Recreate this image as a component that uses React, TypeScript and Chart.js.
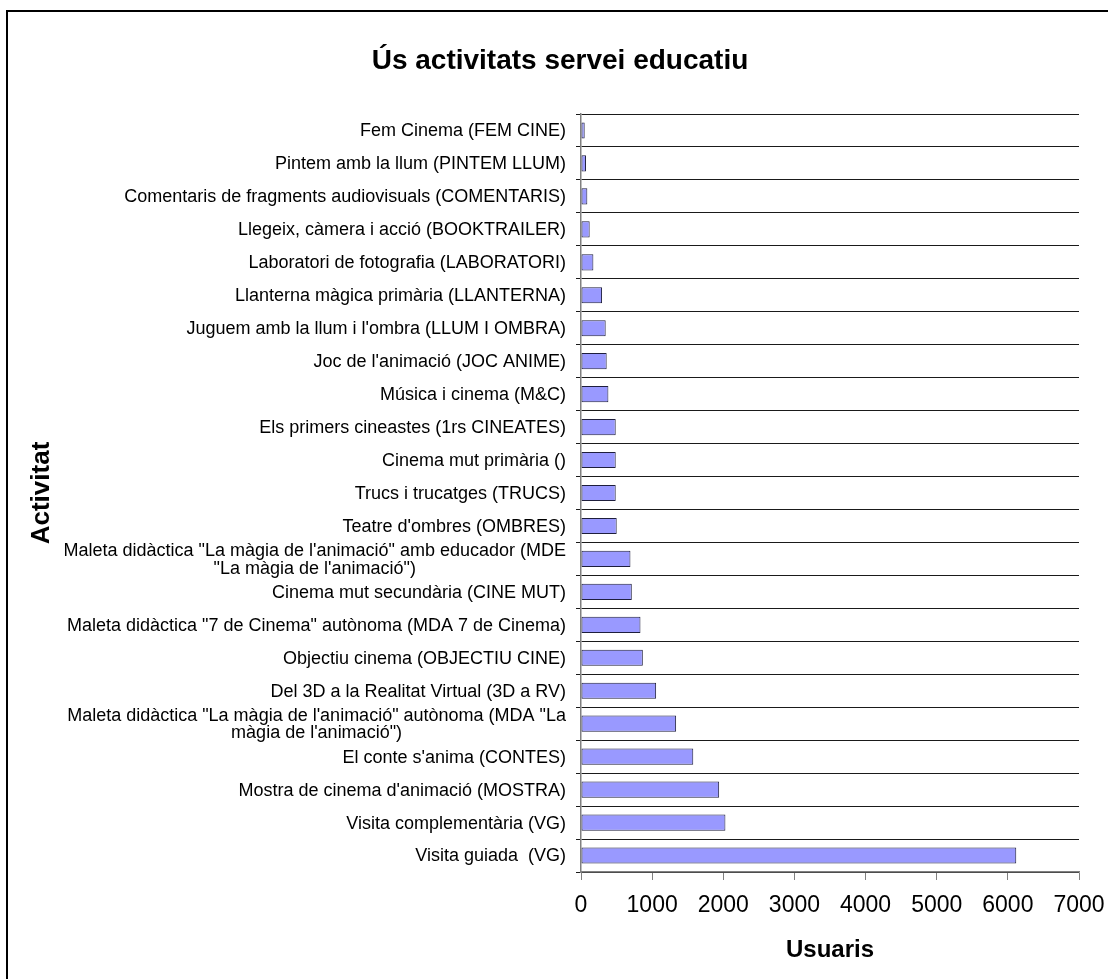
import React, { useEffect, useRef } from "react";
import { Chart, registerables } from "chart.js";

Chart.register(...registerables);

const chartTitle = "Ús activitats servei educatiu";
const xTitle = "Usuaris";
const yTitle = "Activitat";

const categories: (string | string[])[] = [
  "Fem Cinema (FEM CINE)",
  "Pintem amb la llum (PINTEM LLUM)",
  "Comentaris de fragments audiovisuals (COMENTARIS)",
  "Llegeix, càmera i acció (BOOKTRAILER)",
  "Laboratori de fotografia (LABORATORI)",
  "Llanterna màgica primària (LLANTERNA)",
  "Juguem amb la llum i l'ombra (LLUM I OMBRA)",
  "Joc de l'animació (JOC ANIME)",
  "Música i cinema (M&C)",
  "Els primers cineastes (1rs CINEATES)",
  "Cinema mut primària ()",
  "Trucs i trucatges (TRUCS)",
  "Teatre d'ombres (OMBRES)",
  ["Maleta didàctica \"La màgia de l'animació\" amb educador (MDE", "\"La màgia de l'animació\")"],
  "Cinema mut secundària (CINE MUT)",
  "Maleta didàctica \"7 de Cinema\" autònoma (MDA 7 de Cinema)",
  "Objectiu cinema (OBJECTIU CINE)",
  "Del 3D a la Realitat Virtual (3D a RV)",
  ["Maleta didàctica \"La màgia de l'animació\" autònoma (MDA \"La", "màgia de l'animació\")"],
  "El conte s'anima (CONTES)",
  "Mostra de cinema d'animació (MOSTRA)",
  "Visita complementària (VG)",
  "Visita guiada  (VG)",
];

const usuaris: number[] = [
  52, 70, 89, 122, 174, 296, 347, 361, 385, 488, 488, 488, 502, 695, 714, 836, 869, 1056, 1337, 1578, 1942,
  2030, 6118,
];

const xMin = 0;
const xMax = 7000;
const xStep = 1000;

const FONT = '"Liberation Sans", Arial, Helvetica, sans-serif';

export default function App() {
  const ref = useRef<HTMLCanvasElement>(null);

  useEffect(() => {
    const canvas = ref.current;
    if (!canvas) return;

    const framePlugin = {
      id: "framePlugin",
      beforeDraw(chart: any) {
        const ctx = chart.ctx;
        ctx.save();
        ctx.fillStyle = "#ffffff";
        ctx.fillRect(0, 0, chart.width, chart.height);
        ctx.restore();
      },
      afterDraw(chart: any) {
        const ctx = chart.ctx;
        ctx.save();
        ctx.strokeStyle = "#000000";
        ctx.lineWidth = 2;
        ctx.beginPath();
        ctx.moveTo(7, chart.height + 5);
        ctx.lineTo(7, 11);
        ctx.lineTo(chart.width + 5, 11);
        ctx.stroke();

        ctx.fillStyle = "#000000";
        ctx.font = `bold 28px ${FONT}`;
        ctx.textAlign = "center";
        ctx.textBaseline = "middle";
        ctx.fillText(chartTitle, 560, 61);

        const ys = chart.scales.y;
        ctx.font = `18px ${FONT}`;
        const right = ys.right - 15;
        const lh = 17.5;
        categories.forEach((lab, i) => {
          const cy = ys.getPixelForTick(i) + 1;
          const lines = Array.isArray(lab) ? lab : [lab];
          const widths = lines.map((l) => ctx.measureText(l).width);
          const maxW = Math.max(...widths);
          const y0 = cy - ((lines.length - 1) * lh) / 2;
          ctx.textAlign = "center";
          lines.forEach((l, k) => ctx.fillText(l, right - maxW / 2, y0 + k * lh));
        });
        ctx.restore();
      },
    };

    const chart = new Chart(canvas, {
      type: "bar",
      data: {
        labels: categories as any,
        datasets: [
          {
            data: usuaris,
            backgroundColor: "#9999FF",
            borderColor: "#1e1e3c",
            borderWidth: 1,
            borderSkipped: false,
            barPercentage: 0.49,
            categoryPercentage: 1,
          },
        ],
      },
      options: {
        indexAxis: "y",
        responsive: false,
        animation: false,
        devicePixelRatio: 1,
        layout: { padding: { top: 114, right: 29, bottom: 0, left: 0 } },
        plugins: {
          legend: { display: false },
          tooltip: { enabled: false },
          title: { display: false },
        },
        scales: {
          x: {
            type: "linear",
            position: "bottom",
            min: xMin,
            max: xMax,
            ticks: {
              stepSize: xStep,
              font: { family: FONT, size: 23 },
              color: "#000000",
              padding: 12,
              maxRotation: 0,
              autoSkip: false,
              callback: (v: any) => String(v),
            },
            grid: {
              drawOnChartArea: false,
              drawTicks: true,
              tickLength: 8,
              color: "#808080",
              lineWidth: 1,
            },
            border: { display: true, color: "#808080", width: 1.5 },
            title: {
              display: true,
              text: xTitle,
              font: { family: FONT, size: 24, weight: "bold" },
              color: "#000000",
              padding: { top: 0, bottom: 14 },
            },
            afterFit: (s: any) => {
              s.height = 107;
              s.paddingLeft = 0;
              s.paddingRight = 0;
            },
          },
          y: {
            type: "category",
            position: "left",
            ticks: { display: false },
            grid: {
              display: true,
              drawOnChartArea: true,
              drawTicks: true,
              tickLength: 5,
              color: "#1a1a1a",
              lineWidth: 1,
              offset: true,
            },
            border: { display: true, color: "#808080", width: 1.5 },
            title: {
              display: true,
              text: yTitle,
              font: { family: FONT, size: 26, weight: "bold" },
              color: "#000000",
              padding: { top: 26, bottom: 0 },
            },
            afterFit: (s: any) => {
              s.width = 581;
              s.paddingTop = 0;
              s.paddingBottom = 0;
            },
          },
        },
      } as any,
      plugins: [framePlugin],
    });

    return () => {
      chart.destroy();
    };
  }, []);

  return (
    <div style={{ position: "absolute", left: 0, top: 0, width: 1108, height: 979, background: "#fff" }}>
      <canvas ref={ref} width={1108} height={979} style={{ display: "block", width: 1108, height: 979 }} />
    </div>
  );
}
